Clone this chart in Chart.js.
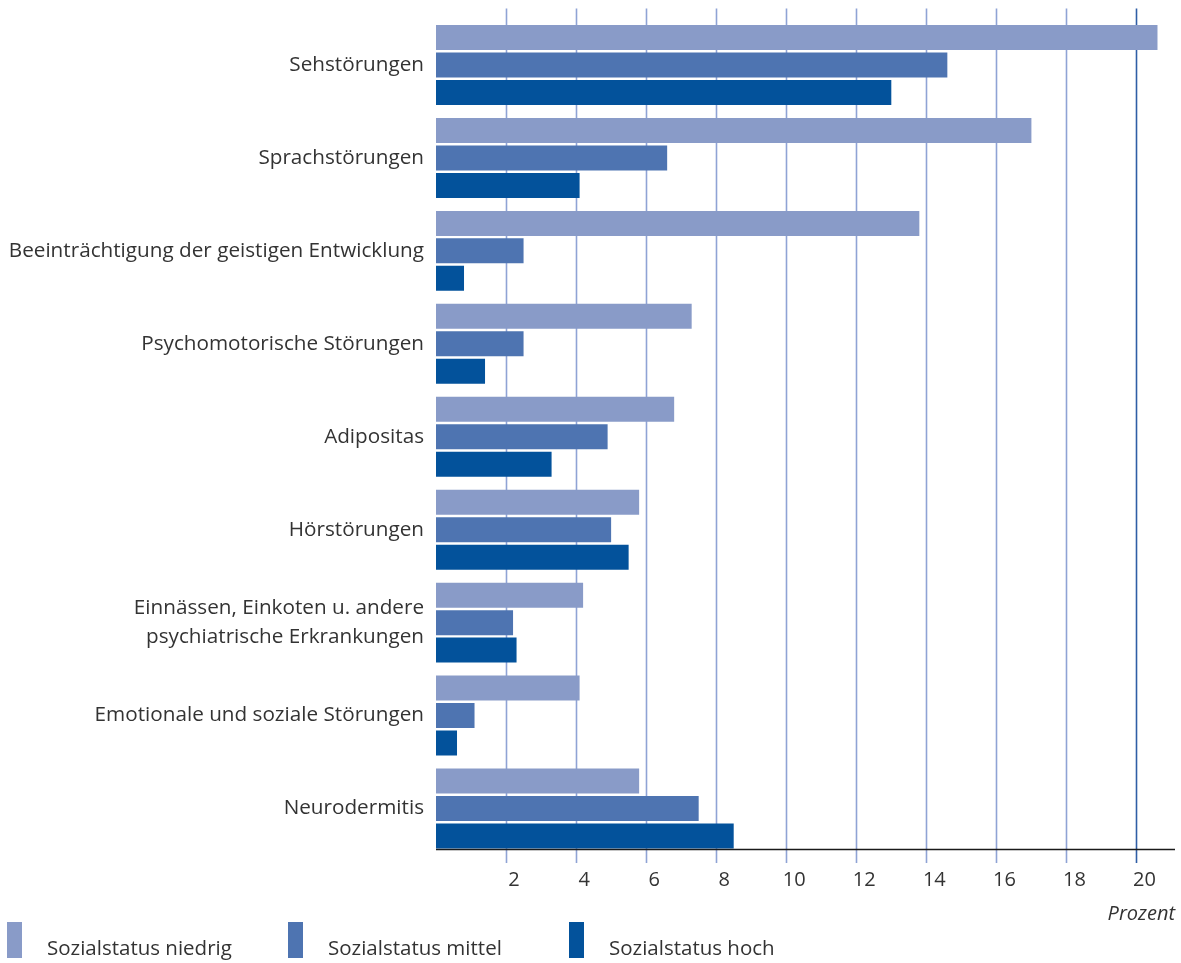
<!DOCTYPE html>
<html>
<head>
<meta charset="utf-8">
<script src="https://cdn.jsdelivr.net/npm/chart.js@4"></script>
<style>
  html,body{margin:0;padding:0;background:#fff;}
  #wrap{position:relative;width:1181px;height:963px;}
  #legend{position:absolute;left:7px;top:922px;display:flex;font-family:"Open Sans",sans-serif;font-size:20.5px;color:#333;}
  #legend .item{width:281px;display:flex;}
  #legend .box{width:15px;height:36px;margin-right:25px;}
  #legend .txt{padding-top:12px;line-height:26px;}
</style>
</head>
<body>
<div id="wrap">
  <canvas id="c" width="1181" height="963"></canvas>
  <div id="legend"></div>
</div>
<script>
/* ---------- Data ---------- */
const categories = [
  'Sehstörungen',
  'Sprachstörungen',
  'Beeinträchtigung der geistigen Entwicklung',
  'Psychomotorische Störungen',
  'Adipositas',
  'Hörstörungen',
  ['Einnässen, Einkoten u. andere', 'psychiatrische Erkrankungen'],
  'Emotionale und soziale Störungen',
  'Neurodermitis'
];
const seriesNames = ['Sozialstatus niedrig', 'Sozialstatus mittel', 'Sozialstatus hoch'];
const niedrig = [20.6, 17.0, 13.8, 7.3, 6.8, 5.8, 4.2, 4.1, 5.8];
const mittel  = [14.6,  6.6,  2.5, 2.5, 4.9, 5.0, 2.2, 1.1, 7.5];
const hoch    = [13.0,  4.1,  0.8, 1.4, 3.3, 5.5, 2.3, 0.6, 8.5];
const colors  = ['#899bc8', '#4e74b1', '#03529b'];
const xTicks  = [2, 4, 6, 8, 10, 12, 14, 16, 18, 20];

const FONT = '"Open Sans", sans-serif';

/* ---------- Plugins ---------- */
// vertical grid lines, reaching above the bars and down past the axis as tick marks
const gridPlugin = {
  id:'grid',
  beforeDatasetsDraw(chart){
    const {ctx, chartArea, scales:{x}} = chart;
    ctx.save();
    xTicks.forEach(v=>{
      const px = Math.round(x.getPixelForValue(v)) + 0.5;
      ctx.strokeStyle = v===20 ? '#2f5ea6' : '#8fa3d5';
      ctx.lineWidth = 1.6;
      ctx.beginPath();
      ctx.moveTo(px, chartArea.top - 10);
      ctx.lineTo(px, chartArea.bottom + 8);
      ctx.stroke();
    });
    ctx.restore();
  }
};
// black x axis line under the last bar
const axisPlugin = {
  id:'axisLine',
  afterDatasetsDraw(chart){
    const {ctx, chartArea} = chart;
    const meta = chart.getDatasetMeta(2);
    const last = meta.data[meta.data.length-1];
    const y = Math.round(last.y + last.height/2) + 0.5;
    ctx.save();
    ctx.strokeStyle = '#1a1a1a';
    ctx.lineWidth = 1.5;
    ctx.beginPath();
    ctx.moveTo(chartArea.left, y);
    ctx.lineTo(chartArea.right, y);
    ctx.stroke();
    ctx.restore();
  }
};

/* ---------- Chart ---------- */
new Chart(document.getElementById('c'), {
  type:'bar',
  data:{
    labels: categories,
    datasets: [niedrig, mittel, hoch].map((d,i)=>({
      label: seriesNames[i],
      data: d,
      backgroundColor: colors[i],
      borderWidth: 0,
      barPercentage: 0.91,
      categoryPercentage: 0.887
    }))
  },
  options:{
    indexAxis:'y',
    responsive:false,
    animation:false,
    layout:{padding:{top:18.5, right:6, left:0, bottom:0}},
    plugins:{legend:{display:false}, tooltip:{enabled:false}},
    scales:{
      x:{
        min:0, max:21.1,
        afterBuildTicks: s => { s.ticks = xTicks.map(v=>({value:v})); },
        afterFit: s => { s.height = 108; s.paddingLeft = 0; s.paddingRight = 0; },
        grid:{display:false, drawTicks:false},
        border:{display:false},
        ticks:{padding:13, labelOffset:8, color:'#333', font:{family:FONT, size:20}},
        title:{display:true, text:'Prozent', align:'end', color:'#333',
               font:{family:FONT, size:20, style:'italic'}, padding:{top:0, bottom:37}}
      },
      y:{
        afterFit: s => { s.width = 436; s.paddingTop = 0; s.paddingBottom = 0; },
        grid:{display:false, drawTicks:false},
        border:{display:false},
        ticks:{padding:12, color:'#333', font:{family:FONT, size:20.7, lineHeight:1.36}}
      }
    }
  },
  plugins:[gridPlugin, axisPlugin]
});

/* ---------- Legend ---------- */
const lg = document.getElementById('legend');
seriesNames.forEach((n,i)=>{
  const it = document.createElement('div');
  it.className = 'item';
  it.innerHTML = `<div class="box" style="background:${colors[i]}"></div><div class="txt">${n}</div>`;
  lg.appendChild(it);
});
</script>
</body>
</html>
